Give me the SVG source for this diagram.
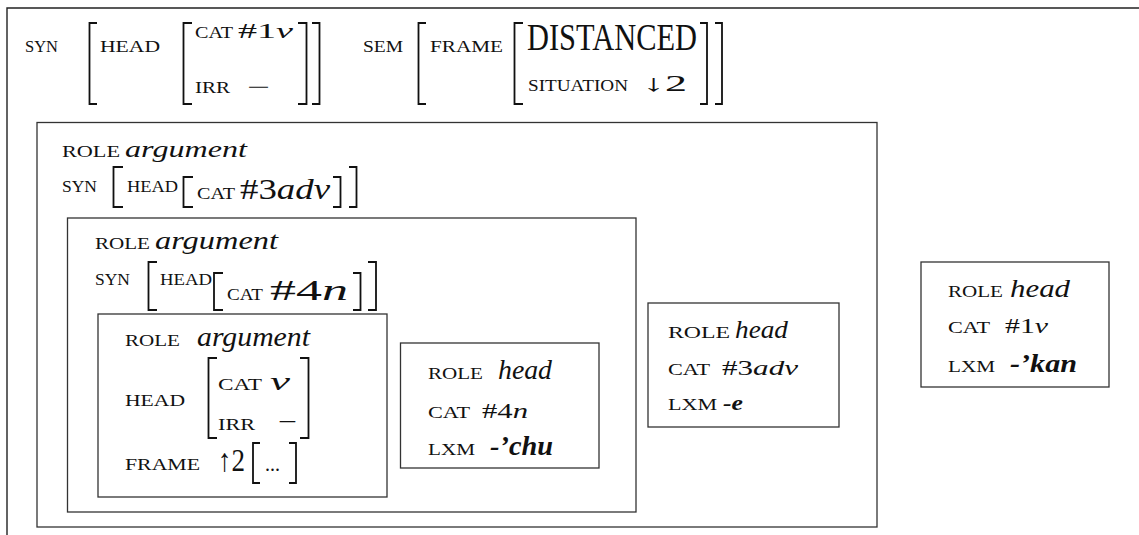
<svg xmlns="http://www.w3.org/2000/svg" width="1139" height="535" viewBox="0 0 1139 535">
<style>
text{font-family:"Liberation Serif","Times New Roman",serif;fill:#111}
.sc{font-size:16px}
.it{font-style:italic}
.bi{font-style:italic;font-weight:bold}
.box{fill:#fff;stroke:#333;stroke-width:1.3}
.br{fill:none;stroke:#111;stroke-width:1.8}
.frame{fill:none;stroke:#222;stroke-width:1.4}
</style>
<rect width="1139" height="535" fill="#fff"/>
<g id="header">
<path class="frame" d="M1139 8H7V535"/>
<text class="sc" x="25" y="52" textLength="33" lengthAdjust="spacingAndGlyphs">SYN</text>
<path class="br" d="M97 23H89.5V104H97"/>
<text class="sc" x="100" y="52" textLength="60" lengthAdjust="spacingAndGlyphs">HEAD</text>
<path class="br" d="M192 23H183.5V104H192"/>
<text class="sc" x="195" y="38" font-size="15" textLength="38" lengthAdjust="spacingAndGlyphs">CAT</text>
<text x="238" y="38" font-size="21" textLength="55" lengthAdjust="spacingAndGlyphs">#1<tspan class="it">v</tspan></text>
<text class="sc" x="195" y="93" textLength="35" lengthAdjust="spacingAndGlyphs">IRR</text>
<text x="247" y="94" font-size="21" textLength="23" lengthAdjust="spacingAndGlyphs">−</text>
<path class="br" d="M298 23H306.5V104H298M312 23H319.5V104H312"/>
<text class="sc" x="363" y="52" font-size="17" textLength="40" lengthAdjust="spacingAndGlyphs">SEM</text>
<path class="br" d="M426 23H418.5V104H426"/>
<text class="sc" x="430" y="52" font-size="17" textLength="73" lengthAdjust="spacingAndGlyphs">FRAME</text>
<path class="br" d="M523 23H514.5V104H523"/>
<text x="527" y="50" font-size="38" textLength="170" lengthAdjust="spacingAndGlyphs">DISTANCED</text>
<text class="sc" x="528" y="91" textLength="100" lengthAdjust="spacingAndGlyphs">SITUATION</text>
<text x="643" y="91" font-size="23.5" textLength="44" lengthAdjust="spacingAndGlyphs">↓2</text>
<path class="br" d="M700 23H707V104H700M715 23H722V104H715"/>
</g>
<g id="box1">
<rect class="box" x="37" y="122.5" width="840" height="404.5"/>
<text class="sc" x="62" y="157" textLength="58" lengthAdjust="spacingAndGlyphs">ROLE</text>
<text class="it" x="125" y="157" font-size="24" textLength="122" lengthAdjust="spacingAndGlyphs">argument</text>
<text class="sc" x="62" y="192" textLength="35" lengthAdjust="spacingAndGlyphs">SYN</text>
<path class="br" d="M123 167H113.5V207H123"/>
<text class="sc" x="127" y="192" textLength="51" lengthAdjust="spacingAndGlyphs">HEAD</text>
<path class="br" d="M193 177H183.5V207H193"/>
<text class="sc" x="197" y="199" textLength="38" lengthAdjust="spacingAndGlyphs">CAT</text>
<text x="240" y="199" font-size="29" textLength="90" lengthAdjust="spacingAndGlyphs">#3<tspan class="it">adv</tspan></text>
<path class="br" d="M333 177H340.5V207H333M349 167H356.5V207H349"/>
</g>
<g id="box2">
<rect class="box" x="67.5" y="218" width="568.5" height="294"/>
<text class="sc" x="95" y="249" textLength="55" lengthAdjust="spacingAndGlyphs">ROLE</text>
<text class="it" x="155" y="249" font-size="25" textLength="123" lengthAdjust="spacingAndGlyphs">argument</text>
<text class="sc" x="95" y="285" textLength="35" lengthAdjust="spacingAndGlyphs">SYN</text>
<path class="br" d="M157 262H148.5V310H157"/>
<text class="sc" x="160" y="285" textLength="52" lengthAdjust="spacingAndGlyphs">HEAD</text>
<path class="br" d="M223 273H214V310H223"/>
<text class="sc" x="227" y="300" textLength="36" lengthAdjust="spacingAndGlyphs">CAT</text>
<text x="270" y="300" font-size="29" textLength="78" lengthAdjust="spacingAndGlyphs">#4<tspan class="it">n</tspan></text>
<path class="br" d="M353 273H360.5V310H353M368 262H376V310H368"/>
</g>
<g id="box3">
<rect class="box" x="98" y="314" width="289" height="183"/>
<text class="sc" x="125" y="346" font-size="17" textLength="55" lengthAdjust="spacingAndGlyphs">ROLE</text>
<text class="it" x="197" y="346" font-size="28" textLength="113" lengthAdjust="spacingAndGlyphs">argument</text>
<text class="sc" x="125" y="406" font-size="19" textLength="60" lengthAdjust="spacingAndGlyphs">HEAD</text>
<path class="br" d="M217 358H208.5V438H217"/>
<text class="sc" x="218" y="390" font-size="19" textLength="44" lengthAdjust="spacingAndGlyphs">CAT</text>
<text class="it" x="270" y="390" font-size="26" textLength="20" lengthAdjust="spacingAndGlyphs">v</text>
<text class="sc" x="218" y="430" font-size="19" textLength="37" lengthAdjust="spacingAndGlyphs">IRR</text>
<text x="278" y="429" font-size="22" textLength="19" lengthAdjust="spacingAndGlyphs">−</text>
<path class="br" d="M300 358H308.5V438H300"/>
<text class="sc" x="125" y="470" font-size="19" textLength="75" lengthAdjust="spacingAndGlyphs">FRAME</text>
<text x="218" y="471" font-size="32" textLength="27" lengthAdjust="spacingAndGlyphs">↑2</text>
<path class="br" d="M260 443H253V483H260"/>
<text x="265" y="471" font-size="20" textLength="15" lengthAdjust="spacingAndGlyphs">...</text>
<path class="br" d="M289 443H296V483H289"/>
</g>
<g id="box4">
<rect class="box" x="400.5" y="343" width="198.5" height="125"/>
<text class="sc" x="428" y="379" font-size="17" textLength="55" lengthAdjust="spacingAndGlyphs">ROLE</text>
<text class="it" x="498" y="379" font-size="28" textLength="54" lengthAdjust="spacingAndGlyphs">head</text>
<text class="sc" x="428" y="418" font-size="17" textLength="42" lengthAdjust="spacingAndGlyphs">CAT</text>
<text x="482" y="418" font-size="22" textLength="46" lengthAdjust="spacingAndGlyphs">#4<tspan class="it">n</tspan></text>
<text class="sc" x="428" y="455" font-size="17" textLength="47" lengthAdjust="spacingAndGlyphs">LXM</text>
<text class="bi" x="490" y="455" font-size="27" textLength="63" lengthAdjust="spacingAndGlyphs">-’chu</text>
</g>
<g id="box5">
<rect class="box" x="648" y="303" width="191" height="124"/>
<text class="sc" x="668" y="338" font-size="17" textLength="62" lengthAdjust="spacingAndGlyphs">ROLE</text>
<text class="it" x="735" y="338" font-size="25" textLength="53" lengthAdjust="spacingAndGlyphs">head</text>
<text class="sc" x="668" y="375" font-size="17" textLength="42" lengthAdjust="spacingAndGlyphs">CAT</text>
<text x="722" y="375" font-size="22" textLength="76" lengthAdjust="spacingAndGlyphs">#3<tspan class="it">adv</tspan></text>
<text class="sc" x="668" y="410" font-size="17" textLength="49" lengthAdjust="spacingAndGlyphs">LXM</text>
<text class="bi" x="723" y="410" font-size="22" textLength="20" lengthAdjust="spacingAndGlyphs">-e</text>
</g>
<g id="box6">
<rect class="box" x="921" y="262" width="188" height="125"/>
<text class="sc" x="948" y="297" font-size="18" textLength="55" lengthAdjust="spacingAndGlyphs">ROLE</text>
<text class="it" x="1010" y="297" font-size="26" textLength="60" lengthAdjust="spacingAndGlyphs">head</text>
<text class="sc" x="948" y="333" font-size="18" textLength="42" lengthAdjust="spacingAndGlyphs">CAT</text>
<text x="1005" y="333" font-size="20" textLength="43" lengthAdjust="spacingAndGlyphs">#1<tspan class="it">v</tspan></text>
<text class="sc" x="948" y="372" font-size="18" textLength="47" lengthAdjust="spacingAndGlyphs">LXM</text>
<text class="bi" x="1010" y="372" font-size="25" textLength="67" lengthAdjust="spacingAndGlyphs">-’kan</text>
</g>
<g id="connectors"/>
</svg>
